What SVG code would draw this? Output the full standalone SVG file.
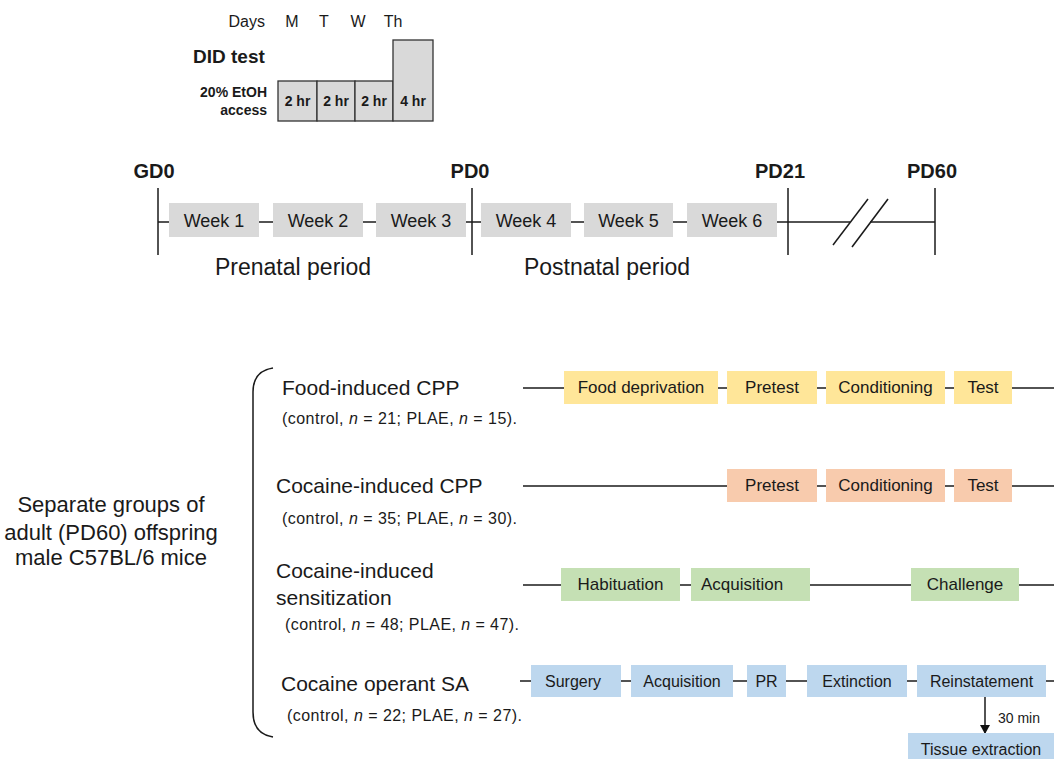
<svg xmlns="http://www.w3.org/2000/svg" width="1054" height="759" viewBox="0 0 1054 759">
<defs>
<marker id="ah" markerWidth="10" markerHeight="10" refX="8" refY="5" orient="auto" markerUnits="userSpaceOnUse">
<path d="M0,0 L9,5 L0,10 Z" fill="#111"/>
</marker>
<style>
text{font-family:"Liberation Sans",Arial,sans-serif;fill:#1a1a1a}
.did{fill:#d9d9d9;stroke:#333;stroke-width:1.3}
.hr{font-size:14px;font-weight:bold;text-anchor:middle}
.day{font-size:16px;text-anchor:middle}
.lbl{font-size:20px;font-weight:bold;text-anchor:middle}
.wk{fill:#d9d9d9}
.wkt{font-size:18px;text-anchor:middle}
.per{font-size:23px;text-anchor:middle}
.ln{stroke:#1a1a1a;stroke-width:1.5;fill:none}
.ttl{font-size:21px}
.sub{font-size:16px}
.y{fill:#ffe699}
.o{fill:#f8cbad}
.g{fill:#c5e0b4}
.b{fill:#bdd7ee}
.bt{font-size:17px;text-anchor:middle}
.bs{font-size:16px;text-anchor:middle}
</style>
</defs>

<g id="did-test">
<text x="265" y="27" font-size="16" text-anchor="end">Days</text>
<text class="day" x="292" y="27">M</text>
<text class="day" x="324" y="27">T</text>
<text class="day" x="358" y="27">W</text>
<text class="day" x="393" y="27">Th</text>
<text x="193" y="63" font-size="19" font-weight="bold">DID test</text>
<text x="267" y="97" font-size="14" font-weight="bold" text-anchor="end">20%  EtOH</text>
<text x="267" y="115" font-size="14" font-weight="bold" text-anchor="end">access</text>
<rect class="did" x="278" y="81" width="39" height="40"/>
<rect class="did" x="317" y="81" width="38" height="40"/>
<rect class="did" x="355" y="81" width="38" height="40"/>
<rect class="did" x="393" y="40" width="40" height="81"/>
<text class="hr" x="297.5" y="106">2 hr</text>
<text class="hr" x="336" y="106">2 hr</text>
<text class="hr" x="374" y="106">2 hr</text>
<text class="hr" x="413" y="106">4 hr</text>
</g>

<g id="timeline-axis">
<line class="ln" x1="158" y1="222" x2="850" y2="222"/>
<line class="ln" x1="870" y1="222" x2="935" y2="222"/>
<line class="ln" x1="833" y1="245" x2="868" y2="199" stroke-width="1.2"/>
<line class="ln" x1="852" y1="247" x2="888" y2="199" stroke-width="1.2"/>
<line class="ln" x1="158" y1="188" x2="158" y2="255"/>
<line class="ln" x1="472" y1="188" x2="472" y2="255"/>
<line class="ln" x1="788" y1="188" x2="788" y2="255"/>
<line class="ln" x1="935" y1="188" x2="935" y2="255"/>
<text class="lbl" x="154" y="178">GD0</text>
<text class="lbl" x="470" y="178">PD0</text>
<text class="lbl" x="780" y="178">PD21</text>
<text class="lbl" x="932" y="178">PD60</text>
<text class="per" x="293" y="275">Prenatal period</text>
<text class="per" x="607" y="275">Postnatal period</text>
</g>

<g id="week1"><rect class="wk" x="169" y="203" width="90" height="34"/><text class="wkt" x="214" y="227">Week 1</text></g>
<g id="week2"><rect class="wk" x="273" y="203" width="90" height="34"/><text class="wkt" x="318" y="227">Week 2</text></g>
<g id="week3"><rect class="wk" x="376" y="203" width="90" height="34"/><text class="wkt" x="421" y="227">Week 3</text></g>
<g id="week4"><rect class="wk" x="481" y="203" width="90" height="34"/><text class="wkt" x="526" y="227">Week 4</text></g>
<g id="week5"><rect class="wk" x="584" y="203" width="89" height="34"/><text class="wkt" x="628.5" y="227">Week 5</text></g>
<g id="week6"><rect class="wk" x="687" y="203" width="90" height="34"/><text class="wkt" x="732" y="227">Week 6</text></g>

<g id="groups-label">
<text x="111" y="512" font-size="22" text-anchor="middle">Separate groups of</text>
<text x="111" y="540" font-size="22" text-anchor="middle">adult (PD60) offspring</text>
<text x="111" y="565" font-size="22" text-anchor="middle">male C57BL/6 mice</text>
<path class="ln" d="M273,368 Q253,371 253,392 L253,712 Q253,734 273,737" stroke="#555" stroke-width="1.6"/>
</g>

<g id="connectors">
<line class="ln" x1="523" y1="388" x2="1054" y2="388"/>
<line class="ln" x1="523" y1="486" x2="1054" y2="486"/>
<line class="ln" x1="523" y1="585" x2="1054" y2="585"/>
<line class="ln" x1="520" y1="681" x2="1054" y2="681"/>
<line class="ln" x1="985" y1="697" x2="985" y2="733" marker-end="url(#ah)"/>
<text x="998" y="723" font-size="14">30 min</text>
</g>

<g id="food-cpp">
<text class="ttl" x="282" y="395">Food-induced CPP</text>
<text class="sub" x="282" y="424" textLength="235" lengthAdjust="spacing">(control, <tspan font-style="italic">n</tspan> = 21;  PLAE, <tspan font-style="italic">n</tspan> = 15).</text>
<rect class="y" x="564" y="371" width="154" height="33"/><text class="bt" x="641" y="393">Food deprivation</text>
<rect class="y" x="727" y="371" width="90" height="33"/><text class="bt" x="772" y="393">Pretest</text>
<rect class="y" x="826" y="371" width="119" height="33"/><text class="bt" x="885.5" y="393">Conditioning</text>
<rect class="y" x="954" y="371" width="58" height="33"/><text class="bt" x="983" y="393">Test</text>
</g>

<g id="cocaine-cpp">
<text class="ttl" x="276" y="493">Cocaine-induced CPP</text>
<text class="sub" x="282" y="524" textLength="235" lengthAdjust="spacing">(control, <tspan font-style="italic">n</tspan> = 35;  PLAE, <tspan font-style="italic">n</tspan> = 30).</text>
<rect class="o" x="727" y="469" width="90" height="33"/><text class="bt" x="772" y="491">Pretest</text>
<rect class="o" x="826" y="469" width="119" height="33"/><text class="bt" x="885.5" y="491">Conditioning</text>
<rect class="o" x="954" y="469" width="58" height="33"/><text class="bt" x="983" y="491">Test</text>
</g>

<g id="cocaine-sensitization">
<text class="ttl" x="276" y="578">Cocaine-induced</text>
<text class="ttl" x="276" y="605">sensitization</text>
<text class="sub" x="285" y="630" textLength="234" lengthAdjust="spacing">(control, <tspan font-style="italic">n</tspan> = 48;  PLAE, <tspan font-style="italic">n</tspan> = 47).</text>
<rect class="g" x="561" y="568" width="119" height="33"/><text class="bt" x="620.5" y="590">Habituation</text>
<rect class="g" x="691" y="568" width="119" height="33"/><text class="bt" x="742" y="590">Acquisition</text>
<rect class="g" x="911" y="568" width="108" height="33"/><text class="bt" x="965" y="590">Challenge</text>
</g>

<g id="cocaine-sa">
<text class="ttl" x="281" y="691">Cocaine operant SA</text>
<text class="sub" x="287" y="721" textLength="235" lengthAdjust="spacing">(control, <tspan font-style="italic">n</tspan> = 22;  PLAE, <tspan font-style="italic">n</tspan> = 27).</text>
<rect class="b" x="531" y="665" width="90" height="32"/><text class="bs" x="573" y="687">Surgery</text>
<rect class="b" x="631" y="665" width="102" height="32"/><text class="bs" x="682" y="687">Acquisition</text>
<rect class="b" x="747" y="665" width="39" height="32"/><text class="bs" x="766.5" y="687">PR</text>
<rect class="b" x="807" y="665" width="100" height="32"/><text class="bs" x="857" y="687">Extinction</text>
<rect class="b" x="917" y="665" width="129" height="32"/><text class="bs" x="981.5" y="687">Reinstatement</text>
</g>

<g id="tissue-extraction">
<rect class="b" x="908" y="733" width="146" height="30"/>
<text class="bs" x="981" y="755">Tissue extraction</text>
</g>
</svg>
